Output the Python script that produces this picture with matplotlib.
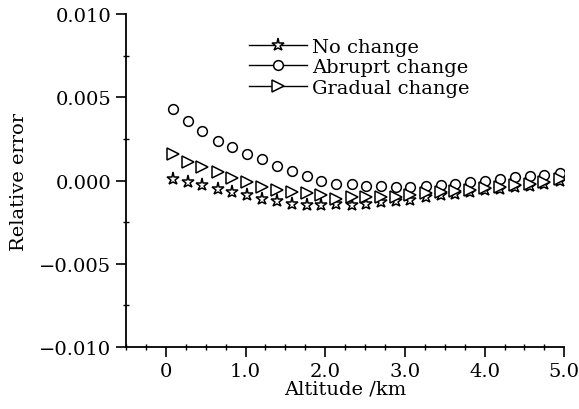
import matplotlib
matplotlib.use("Agg")
import matplotlib.pyplot as plt
from matplotlib.ticker import MultipleLocator, FuncFormatter

# altitude of each sample (km)
altitude = [0.09, 0.28, 0.46, 0.65, 0.83, 1.02, 1.21, 1.39, 1.58, 1.77, 1.95, 2.14,
            2.33, 2.51, 2.70, 2.89, 3.07, 3.26, 3.45, 3.63, 3.82, 4.01, 4.19, 4.38,
            4.57, 4.75, 4.94]

no_change = [0.00012, -0.00008, -0.00028, -0.00052, -0.00072, -0.00088, -0.0011, -0.00125,
             -0.0014, -0.0015, -0.0015, -0.0014, -0.00145, -0.0014, -0.0013, -0.00125,
             -0.0012, -0.0010, -0.00085, -0.0008, -0.0007, -0.0006, -0.0005, -0.0004,
             -0.0003, -0.0002, -0.00004]

abrupt_change = [0.0043, 0.00355, 0.0030, 0.0024, 0.0020, 0.0016, 0.0013, 0.0009, 0.00055,
                 0.00025, 0.0000, -0.0002, -0.0002, -0.0003, -0.0003, -0.0004, -0.0004,
                 -0.0003, -0.00024, -0.00018, -0.0001, 0.0000, 0.0001, 0.0002, 0.0003,
                 0.00036, 0.00048]

gradual_change = [0.00157, 0.00114, 0.00084, 0.00054, 0.00018, -0.00006, -0.00036, -0.0006,
                  -0.00068, -0.00078, -0.0009, -0.0011, -0.0010, -0.0010, -0.0010, -0.0010,
                  -0.0009, -0.00075, -0.00068, -0.00064, -0.00058, -0.00048, -0.00038,
                  -0.00028, -0.00018, -0.00008, 0.00012]

series = [
    (no_change, "*", 9.5, "No change"),
    (abrupt_change, "o", 7, "Abruprt change"),
    (gradual_change, ">", 8, "Gradual change"),
]

plt.rcParams["font.family"] = "DejaVu Serif"
plt.rcParams["font.size"] = 14

fig = plt.figure(figsize=(5.79, 4.10), dpi=100)
ax = fig.add_axes([0.2176, 0.1512, 0.757, 0.8122])

for vals, mk, ms, lab in series:
    ax.plot(altitude, vals, linestyle="none", color="black", marker=mk, markersize=ms,
            markerfacecolor="white", markeredgewidth=1.1)

ax.set_xlim(-0.5, 5.0)
ax.set_ylim(-0.010, 0.010)

for side in ("top", "right"):
    ax.spines[side].set_visible(False)
for side in ("left", "bottom"):
    ax.spines[side].set_linewidth(1.3)

ax.xaxis.set_major_locator(MultipleLocator(1.0))
ax.xaxis.set_minor_locator(MultipleLocator(0.25))
ax.yaxis.set_major_locator(MultipleLocator(0.005))
ax.yaxis.set_minor_locator(MultipleLocator(0.0025))
ax.xaxis.set_major_formatter(FuncFormatter(lambda v, p: "0" if abs(v) < 1e-9 else f"{v:.1f}"))
ax.yaxis.set_major_formatter(FuncFormatter(lambda v, p: f"{v:.3f}".replace("-", "\u2212")
                                           if abs(v) > 1e-9 else "0.000"))
ax.tick_params(which="major", direction="out", length=7, width=1.2, labelsize=14)
ax.tick_params(which="minor", direction="inout", length=4, width=1.0)

ax.set_xlabel("Altitude /km", fontsize=14, labelpad=0)
ax.set_ylabel("Relative error", fontsize=14, labelpad=8)

# legend markers sit on a short line, as in the original
handles = []
for vals, mk, ms, lab in series:
    h, = ax.plot([], [], color="black", linewidth=1.0, marker=mk, markersize=ms,
                 markerfacecolor="white", markeredgewidth=1.1, label=lab)
    handles.append(h)
ax.legend(handles=handles, loc="upper left", bbox_to_anchor=(0.245, 0.975), frameon=False,
          handlelength=3.0, handletextpad=0.25, labelspacing=0.12, fontsize=14,
          borderpad=0.3)

fig.savefig("out.png", dpi=100)
